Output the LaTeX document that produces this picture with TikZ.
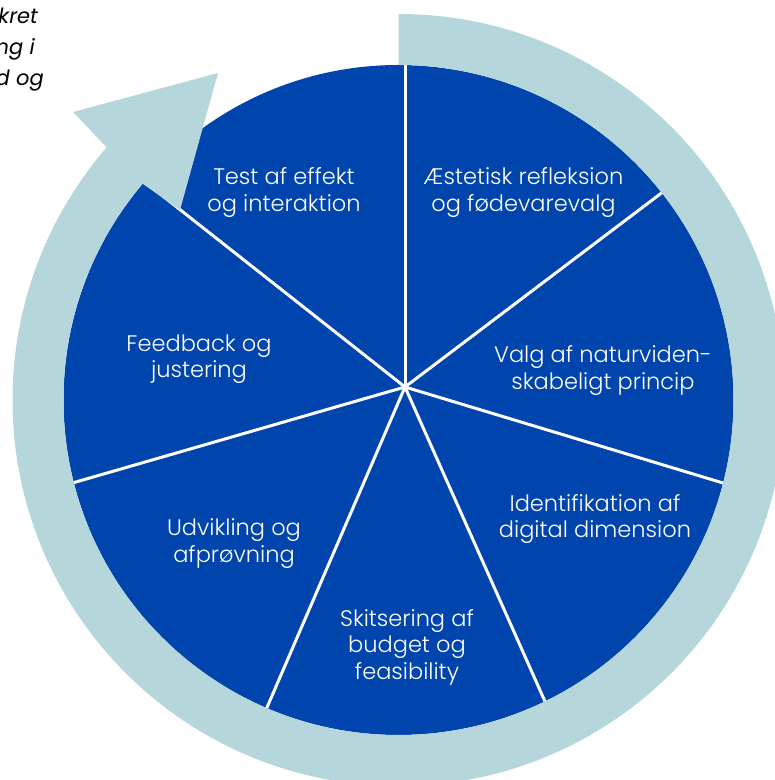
\documentclass[tikz,border=0pt]{standalone}
\usepackage{fontspec}
\setmainfont{Poppins}
\newfontfamily\lightfont{Poppins Light}
\usetikzlibrary{calc}
\definecolor{wheelblue}{RGB}{0,68,173}
\definecolor{ringteal}{RGB}{181,214,219}
\begin{document}
\begin{tikzpicture}[x=1pt,y=1pt,
  steplabel/.style={text=white, font=\lightfont\fontsize{22.5}{26}\selectfont, inner sep=0pt, anchor=base},
  sidenote/.style={text=black, font=\fontsize{21}{25}\selectfont\itshape, inner sep=0pt, anchor=base east},
  spoke/.style={draw=white, line width=3pt}]
\useasboundingbox (0,0) rectangle (775,780);
\clip (0,0) rectangle (775,780);

% wheel centre and the point where the spokes meet
\coordinate (C) at (398.5,380);
\coordinate (S) at (405,393);

% blue wheel with seven sectors
\fill[wheelblue] (C) circle[radius=335];
\begin{scope}
  \clip (C) circle[radius=335];
  \foreach \a in {90,37.1,-16.8,-66,-113.3,-163.9,141.75}
    \draw[spoke] (S) -- ++(\a:400);
\end{scope}

% circular arrow around the wheel
\coordinate (barbA) at (73,668);
\coordinate (tip) at (218,707);
\coordinate (barbB) at (180,570);
\fill[ringteal] ($(C)+(90:386)$) arc[start angle=90, end angle=-220.9, radius=386]
  -- (barbA) -- (tip) -- (barbB)
  -- ($(C)+(-220.2:335)$) arc[start angle=-220.2, end angle=90, radius=335] -- cycle;

% sector labels
\node[steplabel] (t1) at (284,595) {Test af effekt};
\node[steplabel] (t2) at (284,568) {og interaktion};
\node[steplabel] (a1) at (523.5,595) {Æstetisk refleksion};
\node[steplabel] (a2) at (523.5,568) {og fødevarevalg};
\node[steplabel] (v1) at (603,417) {Valg af naturviden-};
\node[steplabel] (v2) at (603,390) {skabeligt princip};
\node[steplabel] (i1) at (595,268) {Identifikation af};
\node[steplabel] (i2) at (595,242) {digital dimension};
\node[steplabel] (s1) at (407,153) {Skitsering af};
\node[steplabel] (s2) at (407,127) {budget og};
\node[steplabel] (s3) at (407,100) {feasibility};
\node[steplabel] (u1) at (234,244) {Udvikling og};
\node[steplabel] (u2) at (234,217) {afprøvning};
\node[steplabel] (f1) at (199,428) {Feedback og};
\node[steplabel] (f2) at (199,402) {justering};

% running text at the upper left
\node[sidenote] (n1) at (38,756) {kret};
\node[sidenote] (n2) at (35,725) {ng i};
\node[sidenote] (n3) at (44,694) {d og};
\end{tikzpicture}
\end{document}
